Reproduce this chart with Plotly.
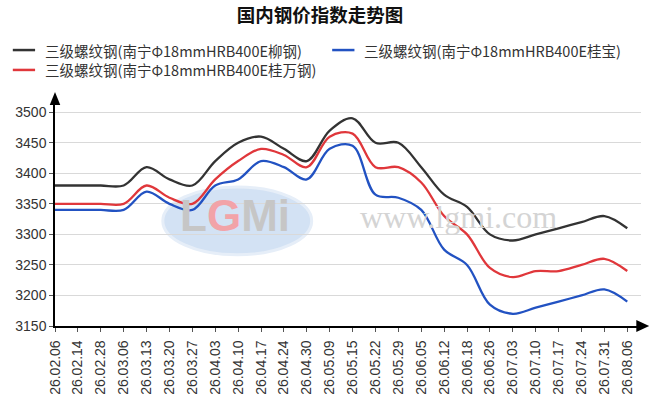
import plotly.graph_objects as go

# trade dates (yy.mm.dd)
dates = ["26.02.06", "26.02.14", "26.02.28", "26.03.06", "26.03.13", "26.03.20",
         "26.03.27", "26.04.03", "26.04.10", "26.04.17", "26.04.24", "26.04.30",
         "26.05.09", "26.05.15", "26.05.22", "26.05.29", "26.06.05", "26.06.12",
         "26.06.18", "26.06.26", "26.07.03", "26.07.10", "26.07.17", "26.07.24",
         "26.07.31", "26.08.06"]

# price index per mill
liugang = [3380, 3380, 3380, 3380, 3410, 3390, 3380, 3420, 3450, 3460, 3440, 3420, 3470,
           3490, 3450, 3450, 3410, 3365, 3345, 3300, 3290, 3300, 3310, 3320, 3330, 3310]
guibao = [3340, 3340, 3340, 3340, 3370, 3350, 3340, 3380, 3390, 3420, 3410, 3390, 3440,
          3445, 3365, 3360, 3340, 3275, 3250, 3185, 3170, 3180, 3190, 3200, 3210, 3190]
guiwan = [3350, 3350, 3350, 3350, 3380, 3360, 3350, 3390, 3420, 3440, 3430, 3410, 3460,
          3465, 3410, 3410, 3385, 3330, 3300, 3245, 3230, 3240, 3240, 3250, 3260, 3240]

names = ["三级螺纹钢(南宁Φ18mmHRB400E柳钢)",
         "三级螺纹钢(南宁Φ18mmHRB400E桂宝)",
         "三级螺纹钢(南宁Φ18mmHRB400E桂万钢)"]
colors = ["#333333", "#2252c2", "#e0373b"]
y_ticks = [3150, 3200, 3250, 3300, 3350, 3400, 3450, 3500]

FONT = "Liberation Sans, Arial, Noto Sans CJK SC"
CJK = "Noto Sans CJK SC, Liberation Sans"

fig = go.Figure()

for vals, name, color in zip([liugang, guibao, guiwan], names, colors):
    fig.add_trace(go.Scatter(
        x=list(range(len(dates))), y=vals, name=name, mode="lines", showlegend=False,
        line=dict(color=color, width=2.3, shape="spline", smoothing=1)
    ))

# -------------------------
# legend drawn by hand (plotly's own legend pushes the margins here)
# -------------------------
legend_spots = [(-0.072, 1.221), (0.473, 1.221), (-0.072, 1.133)]
for (lx, ly), name, color in zip(legend_spots, names, colors):
    fig.add_shape(type="line", xref="paper", yref="paper", x0=lx, x1=lx + 0.038,
                  y0=ly, y1=ly, line=dict(color=color, width=2.5))
    fig.add_annotation(xref="paper", yref="paper", x=lx + 0.051, y=ly, text=name,
                       showarrow=False, xanchor="left", yanchor="middle",
                       font=dict(family=CJK, size=14.5, color="#333333"))

# -------------------------
# watermark
# -------------------------
fig.add_shape(type="circle", xref="paper", yref="paper", layer="below",
              x0=0.184, x1=0.438, y0=0.315, y1=0.615,
              fillcolor="#d3e2f4", line=dict(color="#e6eef8", width=3))
fig.add_annotation(xref="paper", yref="paper", x=0.307, y=0.49, showarrow=False,
                   xanchor="center", yanchor="middle",
                   text="<b>L<span style='color:#f2a3a8'>G</span>Mi</b>",
                   font=dict(family="Liberation Sans", size=44, color="#c6c6c6"))
fig.add_annotation(xref="paper", yref="paper", x=0.689, y=0.482, showarrow=False,
                   xanchor="center", yanchor="middle",
                   text="www.lgmi.com",
                   font=dict(family="Liberation Serif", size=32, color="#d4d4d4"))

# axis arrows
fig.add_shape(type="path", xref="paper", yref="paper", fillcolor="black", line=dict(width=0),
              path="M -0.009,0.978 L 0,1.035 L 0.009,0.978 Z")
fig.add_shape(type="path", xref="paper", yref="paper", fillcolor="black", line=dict(width=0),
              path="M 0.992,0.027 L 1.014,0 L 0.992,-0.027 Z")

fig.update_layout(
    width=655, height=407,
    margin=dict(l=55, r=14, t=100, b=81),
    paper_bgcolor="white", plot_bgcolor="white",
    font=dict(family=FONT, color="#333333"),
    title=dict(text="<b>国内钢价指数走势图</b>", x=0.4885, xanchor="center",
               xref="container", y=0.963, yref="container", yanchor="middle",
               font=dict(family=CJK, size=18.5, color="#111111")),
    showlegend=False,
)

fig.update_xaxes(
    range=[0, 25.6], tickmode="array", tickvals=list(range(len(dates))), ticktext=dates,
    tickangle=-90, tickfont=dict(size=14, color="#333333"), ticklabelstandoff=3,
    ticks="outside", ticklen=4, tickcolor="#555555",
    showgrid=False, zeroline=False, showline=True, linecolor="black", linewidth=1.5
)
fig.update_yaxes(
    range=[3150, 3520], tickmode="array", tickvals=y_ticks,
    tickfont=dict(size=14, color="#333333"),
    ticks="outside", ticklen=4, tickcolor="#555555",
    showgrid=True, gridcolor="#d9d9d9", gridwidth=1, zeroline=False,
    showline=True, linecolor="black", linewidth=1.5
)

# page body has a default 8px margin; drop it so the figure sits at the corner
fig.write_html("out.html", config={"displayModeBar": False},
               post_script="document.body.style.margin='0';")
